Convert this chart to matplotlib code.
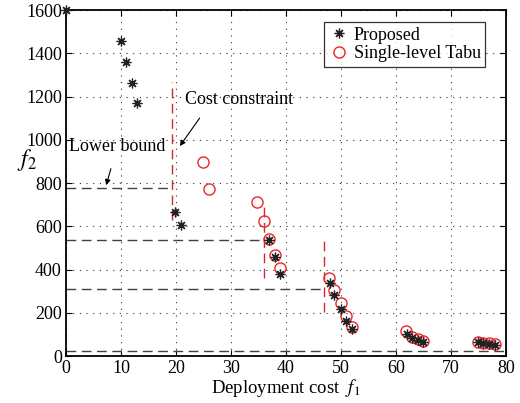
import matplotlib
matplotlib.use("Agg")
import matplotlib.pyplot as plt

prop_x = [0, 10, 10.9, 12, 12.9, 19.8, 20.9, 36.9, 38.0, 38.9, 48.0, 48.7, 50.0, 50.9, 52.0,
          62.0, 62.9, 64.0, 64.9, 74.9, 75.8, 76.9, 78.0]
prop_y = [1600, 1458, 1361, 1262, 1172, 666, 606, 538, 458, 379, 338, 282, 217, 162, 125,
          102, 85, 75, 67, 64, 60, 57, 53]
tabu_x = [24.9, 26.0, 34.7, 36.0, 36.9, 38.0, 38.9, 47.8, 48.7, 50.0, 50.9, 52.0,
          61.8, 62.9, 64.0, 64.9, 74.9, 75.8, 76.9, 78.0]
tabu_y = [897, 772, 712, 624, 541, 467, 407, 361, 305, 245, 185, 134,
          116, 90, 80, 70, 66, 62, 58, 55]
lb_y = [777, 537, 312, 22]
lb_xend = [19.5, 36.0, 46.9, 80]
cc_x = [19.3, 36.0, 46.9]
cc_ymin = [629, 361, 203]
cc_ymax = [1267, 712, 555]

plt.rcParams['font.family'] = ['Liberation Serif', 'DejaVu Serif']
plt.rcParams['mathtext.fontset'] = 'stix'

fig = plt.figure(figsize=(5.2, 4.03), dpi=100)
ax = fig.add_axes([0.127, 0.1166, 0.846, 0.8585])

for y, xe in zip(lb_y, lb_xend):
    ax.plot([0, xe], [y, y], color='#404040', lw=1.0, dashes=(7, 4), zorder=2)
for x, y0, y1 in zip(cc_x, cc_ymin, cc_ymax):
    ax.plot([x, x], [y0, y1], color='#d9262e', lw=1.0, dashes=(7, 4), zorder=2)

ax.plot(prop_x, prop_y, linestyle='none', marker=(8, 2, 0), color='#222222', ms=7,
        mew=0.9, label='Proposed', clip_on=False, zorder=4)
ax.plot(tabu_x, tabu_y, linestyle='none', marker='o', mfc='none', mec='#e8262b', ms=8,
        mew=1.0, label='Single-level Tabu', zorder=3)

ax.set_xlim(0, 80)
ax.set_ylim(0, 1600)
ax.set_xticks(range(0, 81, 10))
ax.set_yticks(range(0, 1601, 200))
ax.grid(True, linestyle=(0, (1, 5)), color='#333333', lw=0.8)
ax.tick_params(direction='in', top=True, right=True, labelsize=13, length=4, pad=3)
for s in ax.spines.values():
    s.set_linewidth(1.3)

ax.set_xlabel('Deployment cost  $f_1$', fontsize=13.5, labelpad=0)
ax.set_ylabel('$f_2$', fontsize=17, rotation=0)
ax.yaxis.set_label_coords(-0.09, 0.53)

ax.annotate('Lower bound', xy=(7.3, 790), xytext=(9.3, 968), fontsize=13,
            ha='center', va='center',
            arrowprops=dict(arrowstyle='-|>', color='black', lw=0.8, mutation_scale=8,
                            shrinkA=8, shrinkB=0))
ax.annotate('Cost constraint', xy=(20.7, 971), xytext=(21.6, 1184), fontsize=13,
            ha='left', va='center',
            arrowprops=dict(arrowstyle='-|>', color='black', lw=0.8, mutation_scale=8,
                            shrinkA=6, shrinkB=0, relpos=(0.2, 0)))

leg = ax.legend(loc='upper right', bbox_to_anchor=(0.953, 0.965), fontsize=13,
                frameon=True, fancybox=False, edgecolor='black', borderpad=0.25,
                labelspacing=0.1, handletextpad=0.2, handlelength=1.2, borderaxespad=0)
leg.get_frame().set_linewidth(0.9)

fig.savefig('out.png', dpi=100)
